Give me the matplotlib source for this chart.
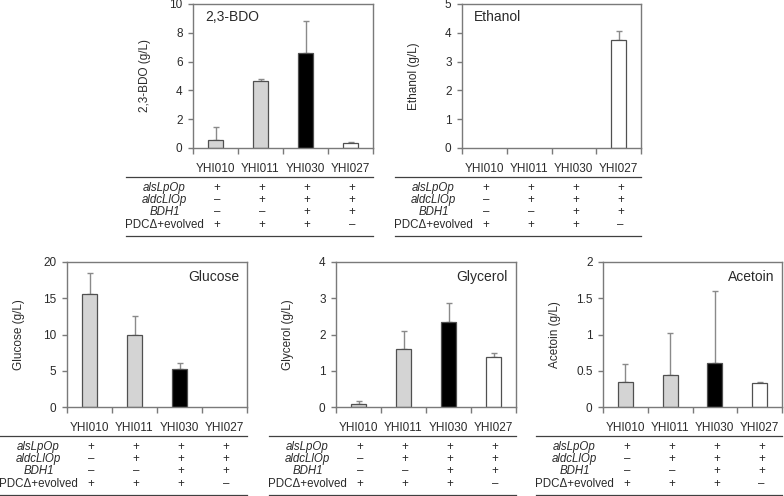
import matplotlib
matplotlib.use("Agg")
import matplotlib.pyplot as plt
from matplotlib.lines import Line2D
import matplotlib.transforms as mtransforms

plt.rcParams['font.family'] = ['Liberation Sans', 'DejaVu Sans']

strains = ['YHI010', 'YHI011', 'YHI030', 'YHI027']
bar_colors = ['#d4d4d4', '#d4d4d4', '#000000', '#ffffff']

bdo = [0.58, 4.65, 6.6, 0.37]
bdo_err = [0.87, 0.15, 2.2, 0.05]
ethanol = [0, 0, 0, 3.75]
ethanol_err = [0, 0, 0, 0.31]
glucose = [15.6, 10.0, 5.2, 0]
glucose_err = [2.9, 2.6, 0.9, 0]
glycerol = [0.09, 1.59, 2.34, 1.38]
glycerol_err = [0.08, 0.5, 0.54, 0.1]
acetoin = [0.34, 0.44, 0.61, 0.33]
acetoin_err = [0.26, 0.58, 0.99, 0.01]

row_labels = ['alsLpOp', 'aldcLlOp', 'BDH1', 'PDC\u0394+evolved']
row_italic = [True, True, True, False]
row_marks = [['+', '+', '+', '+'],
             ['\u2013', '+', '+', '+'],
             ['\u2013', '\u2013', '+', '+'],
             ['+', '+', '+', '\u2013']]

W, H = 784, 496
fig = plt.figure(figsize=(W / 100, H / 100), dpi=100)

TXT = '#2a2a2a'
SP = '#7a7a7a'
FS = 8.5
TFS = 8.3


def panel(left, top, right, bottom, vals, errs, ylim, yticks, ylabel, title, title_right):
    ax = fig.add_axes([left / W, 1 - bottom / H, (right - left) / W, (bottom - top) / H])
    x = list(range(len(strains)))
    edges = ['#505050' if v > 0 else 'none' for v in vals]
    ax.bar(x, vals, width=0.34, color=bar_colors, edgecolor=edges, linewidth=0.9, zorder=2)
    ex = [xi for xi, v in zip(x, vals) if v > 0]
    ev = [v for v in vals if v > 0]
    ee = [e for v, e in zip(vals, errs) if v > 0]
    ax.errorbar(ex, ev, yerr=[[0] * len(ee), ee], fmt='none', ecolor='#8a8a8a',
                elinewidth=1.0, capsize=2.2, capthick=1.0, zorder=1)
    ax.set_xlim(-0.5, len(strains) - 0.5)
    ax.set_ylim(*ylim)
    ax.set_yticks(yticks)
    ax.set_yticklabels(['%g' % t for t in yticks])
    ax.set_xticks([i - 0.5 for i in range(len(strains) + 1)])
    ax.set_xticklabels([])
    ax.set_xticks(x, minor=True)
    ax.set_xticklabels(strains, minor=True)
    ax.tick_params(axis='x', which='minor', length=0, pad=10.5, labelsize=FS, labelcolor=TXT)
    ax.tick_params(axis='x', which='major', length=4, width=1, color=SP, direction='out')
    ax.tick_params(axis='y', length=3.5, width=1, color=SP, direction='out', labelsize=FS,
                   labelcolor=TXT, pad=4)
    for s in ax.spines.values():
        s.set_color(SP)
        s.set_linewidth(1.0)
    ax.set_ylabel(ylabel, fontsize=FS, color=TXT)
    ax.yaxis.set_label_coords(-42 / (right - left), 0.5)
    if title_right:
        ax.text(1 - 8 / (right - left), 1 - 15 / (bottom - top), title, transform=ax.transAxes,
                ha='right', va='center', fontsize=10, color=TXT)
    else:
        ax.text(12 / (right - left), 1 - 13 / (bottom - top), title, transform=ax.transAxes,
                ha='left', va='center', fontsize=10, color=TXT)

    # table below
    tr = mtransforms.blended_transform_factory(ax.transData, fig.transFigure)
    line_l = (left - 67) / W
    line_r = right / W
    for yoff in (29, 88):
        fig.add_artist(Line2D([line_l, line_r], [1 - (bottom + yoff) / H] * 2,
                              transform=fig.transFigure, color='#404040', lw=0.9))
    row_y = [40, 52, 64, 77]
    for r, (lab, it, marks) in enumerate(zip(row_labels, row_italic, row_marks)):
        yf = 1 - (bottom + row_y[r]) / H
        fig.text((left - 28.5) / W, yf, lab, ha='center', va='center', fontsize=TFS,
                 style='italic' if it else 'normal', color=TXT)
        for i, m in enumerate(marks):
            ax.text(i + 0.04, yf, m, transform=tr, ha='center', va='center', fontsize=TFS,
                    color=TXT, clip_on=False)
    return ax


panel(193, 4, 373, 148, bdo, bdo_err, (0, 10), [0, 2, 4, 6, 8, 10], '2,3-BDO (g/L)', '2,3-BDO', False)
panel(462, 4, 641, 148, ethanol, ethanol_err, (0, 5), [0, 1, 2, 3, 4, 5], 'Ethanol (g/L)', 'Ethanol', False)
panel(67, 262, 247, 407, glucose, glucose_err, (0, 20), [0, 5, 10, 15, 20], 'Glucose (g/L)', 'Glucose', True)
panel(336, 262, 516, 407, glycerol, glycerol_err, (0, 4), [0, 1, 2, 3, 4], 'Glycerol (g/L)', 'Glycerol', True)
panel(603, 262, 782, 407, acetoin, acetoin_err, (0, 2), [0, 0.5, 1, 1.5, 2], 'Acetoin (g/L)', 'Acetoin', True)

fig.savefig('out.png', dpi=100)
